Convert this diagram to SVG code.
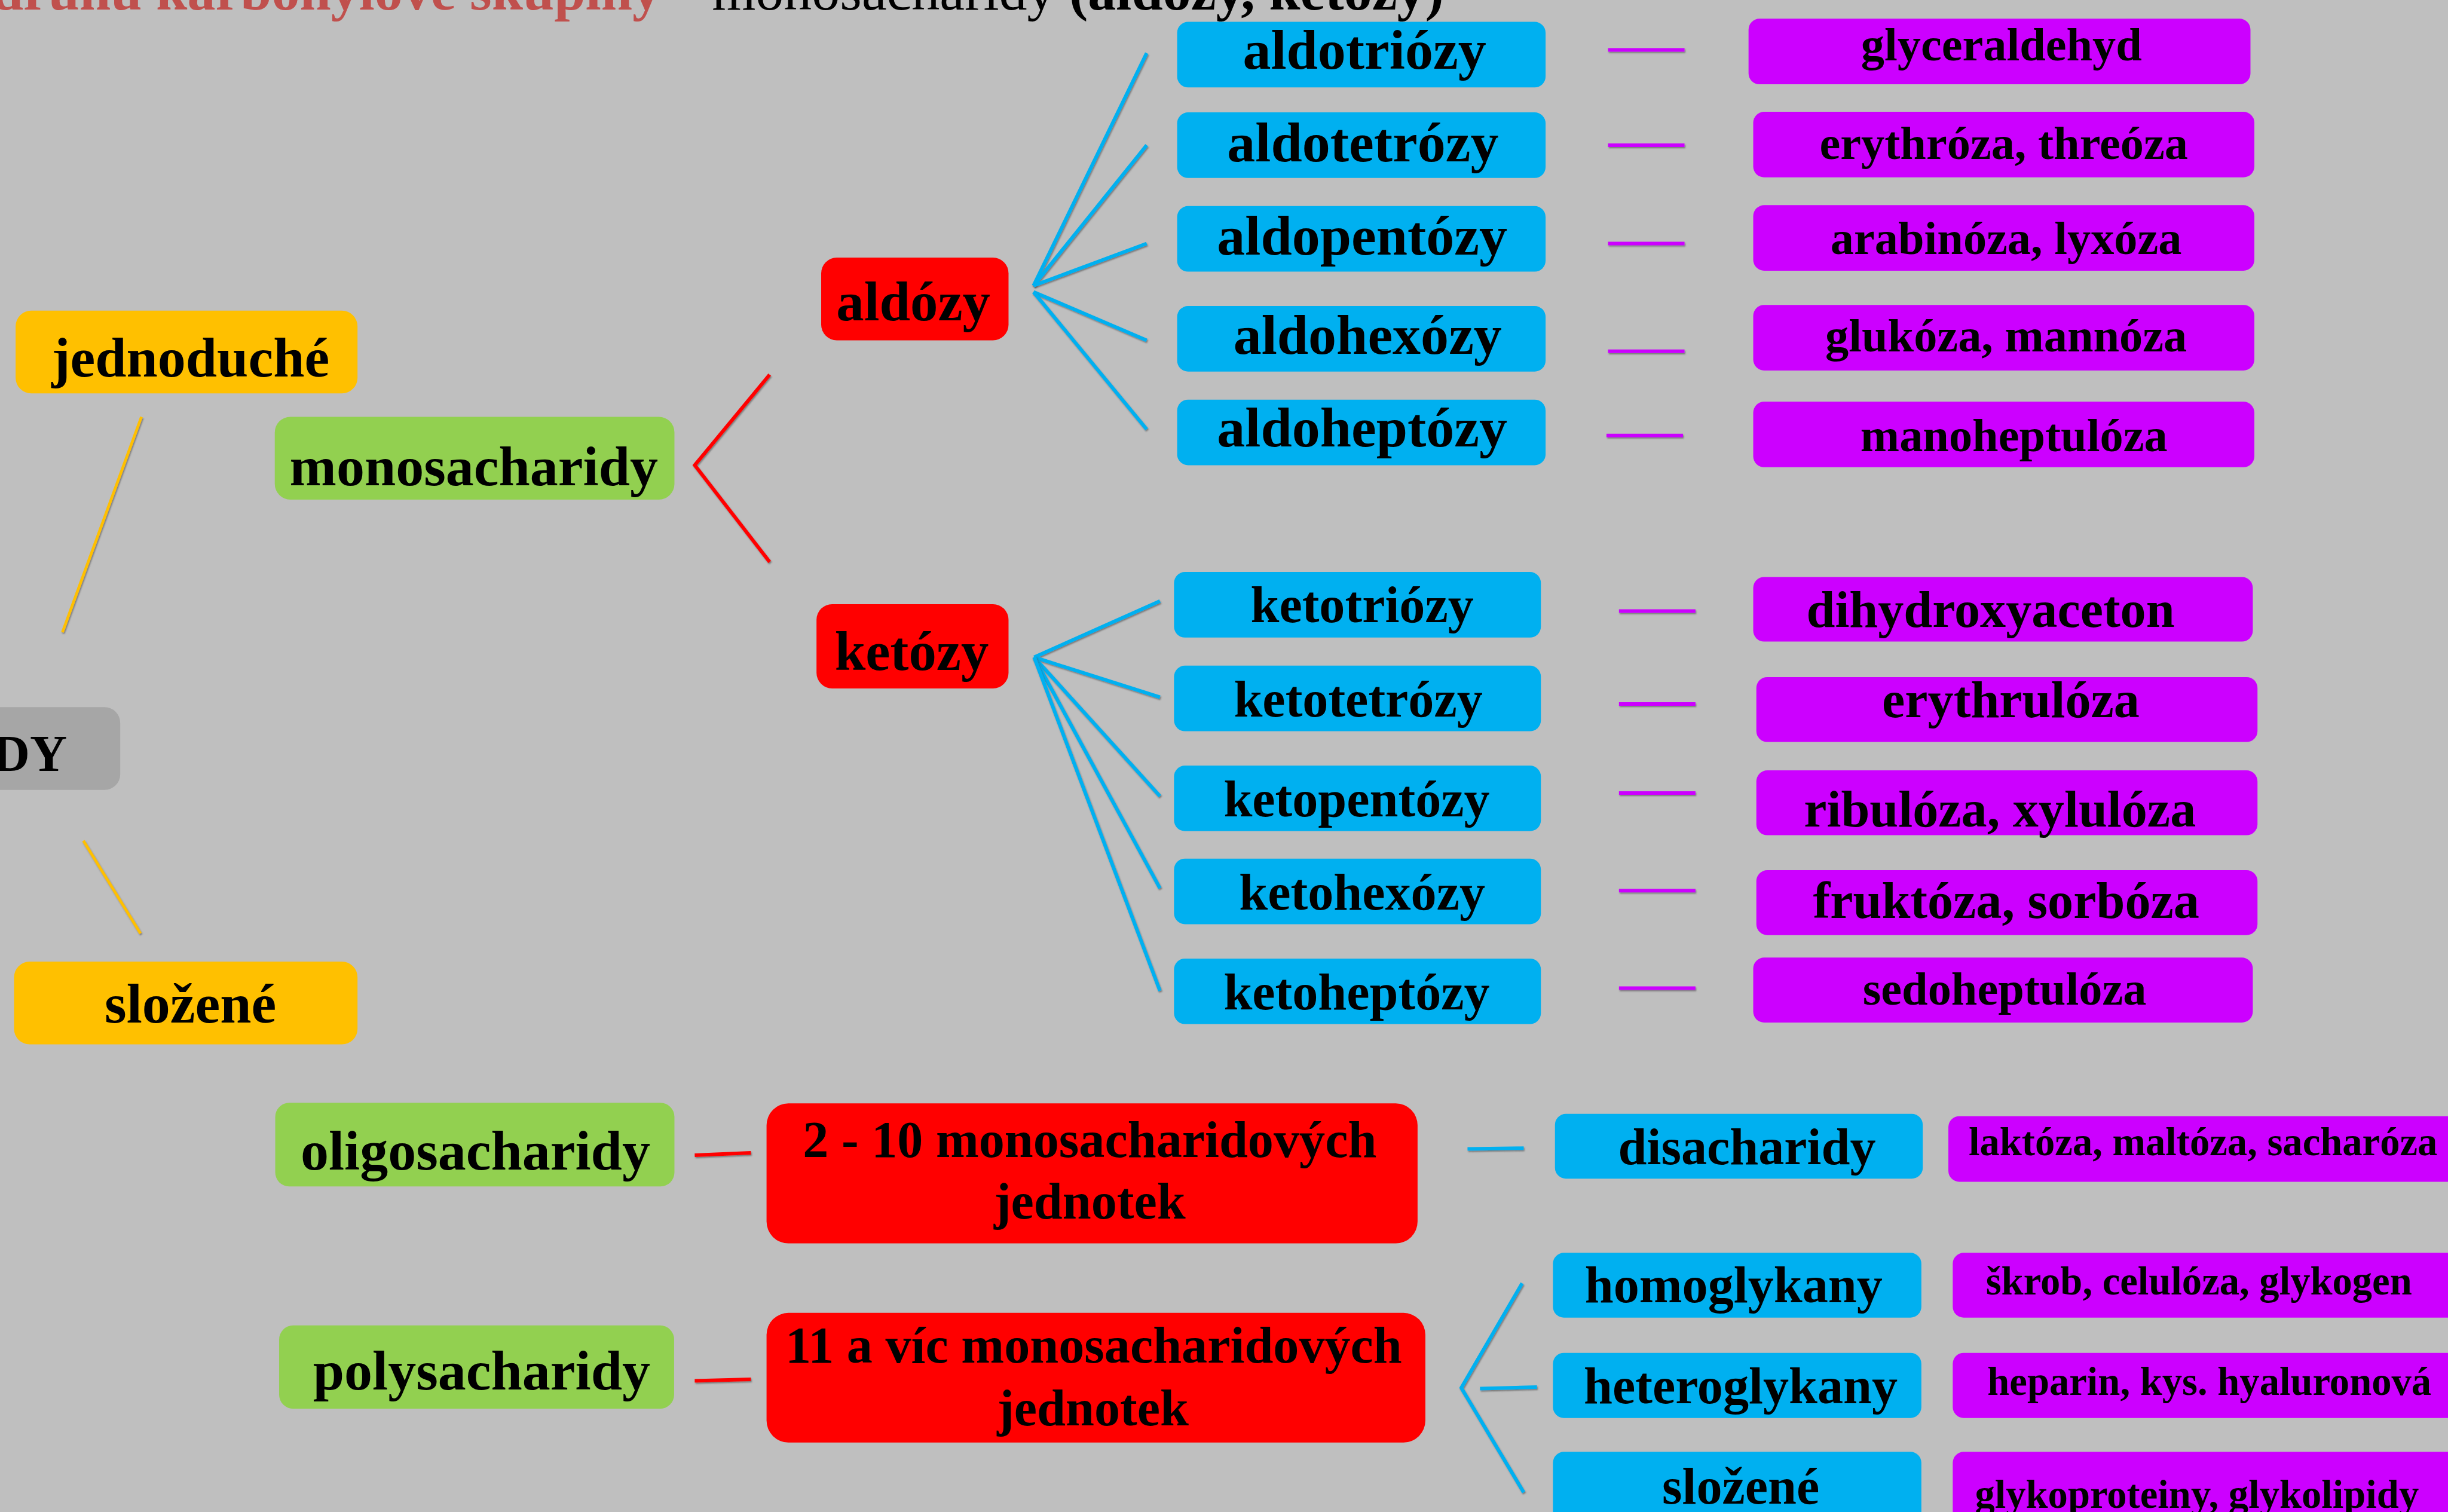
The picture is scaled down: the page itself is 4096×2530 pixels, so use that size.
<svg xmlns="http://www.w3.org/2000/svg" width="4096" height="2530" viewBox="0 0 4096 2530">
<defs>
<style>
text{font-family:"Liberation Serif","Times New Roman",serif;font-weight:bold;fill:#000}
.t36{font-size:36px}.t35{font-size:35.5px}.t33{font-size:33px}.t30{font-size:30px}.t25{font-size:25.5px}
.c{text-anchor:middle}
.blue{fill:#00b0f0}.purple{fill:#cc00ff}.red{fill:#ff0000}.green{fill:#92d050}.orange{fill:#ffc000}.gray{fill:#a6a6a6}
.lb,.lp,.lr,.lo{fill:none;stroke-width:2.3;filter:url(#sh)}
.lb{stroke:#00b0f0}.lp{stroke:#cc00ff}.lr{stroke:#ff0000}.lo{stroke:#ffc000;stroke-width:1.8}
</style>
<filter id="sh" filterUnits="userSpaceOnUse" x="-50" y="-50" width="1700" height="1100">
<feDropShadow dx="0.5" dy="0.8" stdDeviation="0.4" flood-color="#404040" flood-opacity="0.55"/>
</filter>
</defs>
<rect width="4096" height="2530" fill="#bfbfbf"/>
<g transform="scale(2.6122)">
<g id="title">
<text x="423" y="6" style="font-size:36px;text-anchor:end;fill:#c0504d">druhu karbonylové skupiny</text>
<text x="456" y="6" style="font-size:36px"><tspan font-weight="normal">monosacharidy </tspan>(aldózy, ketózy)</text>
</g>
<g id="connectors">
<line class="lo" x1="90.6" y1="267" x2="40" y2="405"/>
<line class="lo" x1="53.4" y1="538.5" x2="90" y2="598"/>
<polyline class="lr" points="493,240 445,298 493,360"/>
<line class="lb" x1="662" y1="183" x2="734.5" y2="34"/>
<line class="lb" x1="662" y1="183" x2="734.5" y2="93"/>
<line class="lb" x1="662" y1="183" x2="734.5" y2="156"/>
<line class="lb" x1="662" y1="187" x2="734.5" y2="218"/>
<line class="lb" x1="662" y1="187" x2="734.5" y2="275"/>
<line class="lb" x1="662.4" y1="421" x2="743" y2="385"/>
<line class="lb" x1="662.4" y1="421" x2="743" y2="446.6"/>
<line class="lb" x1="662.4" y1="421" x2="743" y2="510"/>
<line class="lb" x1="662.4" y1="421" x2="743" y2="569"/>
<line class="lb" x1="662.4" y1="421" x2="743" y2="634.7"/>
<line class="lp" x1="1030" y1="32" x2="1079" y2="32"/>
<line class="lp" x1="1030" y1="93" x2="1079" y2="93"/>
<line class="lp" x1="1030" y1="156" x2="1079" y2="156"/>
<line class="lp" x1="1030" y1="225" x2="1079" y2="225"/>
<line class="lp" x1="1029" y1="279" x2="1078" y2="279"/>
<line class="lp" x1="1037" y1="391.4" x2="1086" y2="391.4"/>
<line class="lp" x1="1037" y1="451" x2="1086" y2="451"/>
<line class="lp" x1="1037" y1="508" x2="1086" y2="508"/>
<line class="lp" x1="1037" y1="570.5" x2="1086" y2="570.5"/>
<line class="lp" x1="1037" y1="633" x2="1086" y2="633"/>
<line class="lr" x1="445" y1="740" x2="481" y2="738.5"/>
<line class="lr" x1="445" y1="884.5" x2="481" y2="883.5"/>
<line class="lb" x1="940" y1="736" x2="976" y2="735.5"/>
<polyline class="lb" points="975,822 936,889 976,956"/>
<line class="lb" x1="948" y1="889.5" x2="984.5" y2="888.5"/>
</g>
<g id="n-sacharidy"><rect class="gray" x="-20" y="453" width="97" height="53" rx="10"/><text class="t33" x="43" y="494" text-anchor="end">DY</text></g>
<g id="n-jednoduche"><rect class="orange" x="10" y="199" width="219" height="53" rx="10"/><text class="t36 c" x="122" y="241">jednoduché</text></g>
<g id="n-slozene"><rect class="orange" x="9" y="616" width="220" height="53" rx="10"/><text class="t36 c" x="122" y="655">složené</text></g>
<g id="n-monosacharidy"><rect class="green" x="176" y="267" width="256" height="53" rx="10"/><text class="t36 c" x="303.5" y="311">monosacharidy</text></g>
<g id="n-aldozy"><rect class="red" x="526" y="165" width="120" height="53" rx="10"/><text class="t35 c" x="585" y="205">aldózy</text></g>
<g id="n-ketozy"><rect class="red" x="523" y="387" width="123" height="54" rx="10"/><text class="t35 c" x="584" y="429">ketózy</text></g>
<g id="n-aldotriozy"><rect class="blue" x="754" y="14" width="236" height="42" rx="7"/><text class="t36 c" x="874" y="44">aldotriózy</text></g>
<g id="n-aldotetrozy"><rect class="blue" x="754" y="72" width="236" height="42" rx="7"/><text class="t36 c" x="873" y="103.5">aldotetrózy</text></g>
<g id="n-aldopentozy"><rect class="blue" x="754" y="132" width="236" height="42" rx="7"/><text class="t36 c" x="872.5" y="163">aldopentózy</text></g>
<g id="n-aldohexozy"><rect class="blue" x="754" y="196" width="236" height="42" rx="7"/><text class="t36 c" x="876" y="226.5">aldohexózy</text></g>
<g id="n-aldoheptozy"><rect class="blue" x="754" y="256" width="236" height="42" rx="7"/><text class="t36 c" x="872.5" y="286">aldoheptózy</text></g>
<g id="n-glyceraldehyd"><rect class="purple" x="1120" y="12" width="321.5" height="42" rx="7"/><text class="t30 c" x="1282" y="38.6">glyceraldehyd</text></g>
<g id="n-erythroza"><rect class="purple" x="1123" y="71.6" width="321" height="42" rx="7"/><text class="t30 c" x="1283.5" y="102">erythróza, threóza</text></g>
<g id="n-arabinoza"><rect class="purple" x="1123" y="131.4" width="321" height="42" rx="7"/><text class="t30 c" x="1285" y="162.7">arabinóza, lyxóza</text></g>
<g id="n-glukoza"><rect class="purple" x="1123" y="195.3" width="321" height="42" rx="7"/><text class="t30 c" x="1285" y="225">glukóza, mannóza</text></g>
<g id="n-manoheptuloza"><rect class="purple" x="1123" y="257.3" width="321" height="42" rx="7"/><text class="t30 c" x="1290" y="289">manoheptulóza</text></g>
<g id="n-ketotriozy"><rect class="blue" x="752" y="366.4" width="235" height="42" rx="7"/><text class="t33 c" x="872.5" y="398.5">ketotriózy</text></g>
<g id="n-ketotetrozy"><rect class="blue" x="752" y="426.4" width="235" height="42" rx="7"/><text class="t33 c" x="870" y="459">ketotetrózy</text></g>
<g id="n-ketopentozy"><rect class="blue" x="752" y="490.4" width="235" height="42" rx="7"/><text class="t33 c" x="869" y="523">ketopentózy</text></g>
<g id="n-ketohexozy"><rect class="blue" x="752" y="550" width="235" height="42" rx="7"/><text class="t33 c" x="872.5" y="582.5">ketohexózy</text></g>
<g id="n-ketoheptozy"><rect class="blue" x="752" y="614" width="235" height="42" rx="7"/><text class="t33 c" x="869" y="646.5">ketoheptózy</text></g>
<g id="n-dihydroxyaceton"><rect class="purple" x="1123" y="369.6" width="320" height="41.4" rx="7"/><text class="t33 c" x="1275" y="401.7">dihydroxyaceton</text></g>
<g id="n-erythruloza"><rect class="purple" x="1125" y="433.7" width="321" height="41.6" rx="7"/><text class="t33 c" x="1288" y="459.5">erythrulóza</text></g>
<g id="n-ribuloza"><rect class="purple" x="1125" y="493.5" width="321" height="41.5" rx="7"/><text class="t33 c" x="1281" y="529.3">ribulóza, xylulóza</text></g>
<g id="n-fruktoza"><rect class="purple" x="1125" y="557.4" width="321" height="41.6" rx="7"/><text class="t33 c" x="1285" y="588">fruktóza, sorbóza</text></g>
<g id="n-sedoheptuloza"><rect class="purple" x="1123" y="613.4" width="320" height="41.6" rx="7"/><text class="t30 c" x="1284" y="643.5">sedoheptulóza</text></g>
<g id="n-oligosacharidy"><rect class="green" x="176.3" y="706.4" width="255.7" height="53.6" rx="9"/><text class="t36 c" x="304.5" y="749">oligosacharidy</text></g>
<g id="n-polysacharidy"><rect class="green" x="178.8" y="849" width="253" height="53.4" rx="9"/><text class="t36 c" x="308.5" y="890">polysacharidy</text></g>
<g id="n-2-10"><rect class="red" x="491" y="706.8" width="417" height="89.7" rx="14"/><text class="t33 c" x="698" y="741">2 - 10 monosacharidových</text><text class="t33 c" x="698" y="780.5">jednotek</text></g>
<g id="n-11"><rect class="red" x="491" y="841" width="422" height="83" rx="14"/><text class="t33 c" x="700.5" y="873">11 a víc monosacharidových</text><text class="t33 c" x="700" y="913">jednotek</text></g>
<g id="n-disacharidy"><rect class="blue" x="996" y="713.5" width="235.6" height="41.5" rx="7"/><text class="t33 c" x="1119" y="745.8">disacharidy</text></g>
<g id="n-laktoza"><rect class="purple" x="1248" y="715" width="340" height="42" rx="7"/><text class="t25" x="1261" y="740">laktóza, maltóza, sacharóza</text></g>
<g id="n-homoglykany"><rect class="blue" x="994.7" y="802.5" width="236" height="41.5" rx="7"/><text class="t33 c" x="1110.5" y="834">homoglykany</text></g>
<g id="n-heteroglykany"><rect class="blue" x="994.7" y="866.6" width="236" height="41.7" rx="7"/><text class="t33 c" x="1115" y="899">heteroglykany</text></g>
<g id="n-slozene2"><rect class="blue" x="994.7" y="930" width="236" height="60" rx="7"/><text class="t33 c" x="1115" y="963">složené</text></g>
<g id="n-skrob"><rect class="purple" x="1250.8" y="802.5" width="340" height="41.5" rx="7"/><text class="t25" x="1272" y="829.3">škrob, celulóza, glykogen</text></g>
<g id="n-heparin"><rect class="purple" x="1250.8" y="866.6" width="340" height="41.7" rx="7"/><text class="t25" x="1273" y="893.5">heparin, kys. hyaluronová</text></g>
<g id="n-glykoproteiny"><rect class="purple" x="1250.8" y="930" width="340" height="60" rx="7"/><text class="t25" x="1265" y="966">glykoproteiny, glykolipidy</text></g>
</g>
</svg>
